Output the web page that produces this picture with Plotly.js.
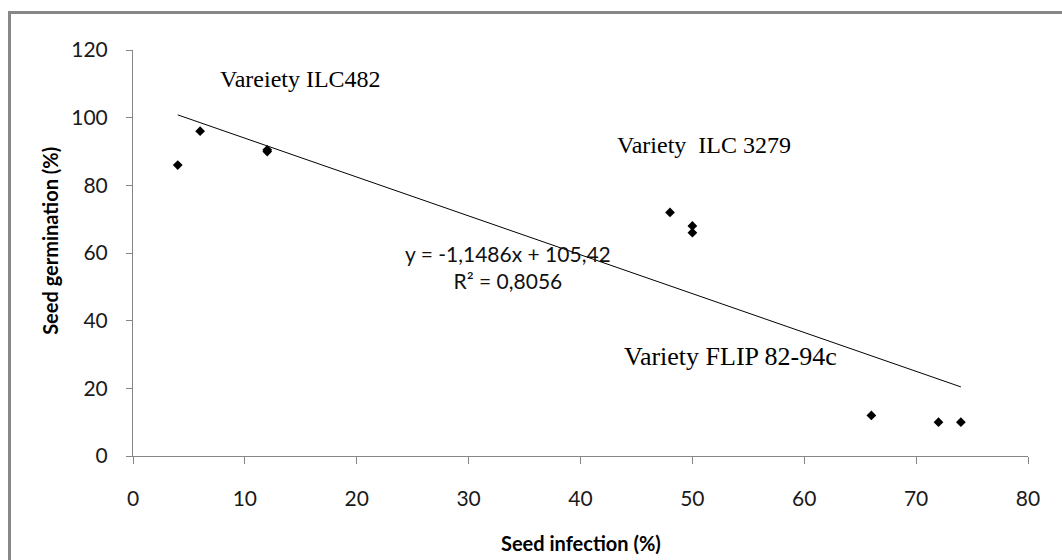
<!DOCTYPE html>
<html>
<head>
<meta charset="utf-8">
<script src="https://cdn.plot.ly/plotly-3.0.1.min.js"></script>
<style>
html,body{margin:0;padding:0;overflow:hidden;background:#fff;}
#wrap{position:relative;width:1062px;height:560px;overflow:hidden;}
#chart{position:absolute;left:0;top:0;width:1062px;height:560px;}
#frame{position:absolute;left:8px;top:11px;width:1100px;height:600px;border:3px solid #878787;box-sizing:border-box;pointer-events:none;}
</style>
</head>
<body>
<div id="wrap"><div id="chart"></div><div id="frame"></div></div>
<script>
// Data
const seedInfection = [4, 6, 12, 12, 48, 50, 50, 66, 72, 74];
const seedGermination = [86, 96, 90, 90.5, 72, 68, 66, 12, 10, 10];
const trendSlope = -1.1486;
const trendIntercept = 105.42;
const rSquared = 0.8056;
const xTicks = [0, 10, 20, 30, 40, 50, 60, 70, 80];
const yTicks = [0, 20, 40, 60, 80, 100, 120];
const varietyLabels = ["Vareiety ILC482", "Variety  ILC 3279", "Variety FLIP 82-94c"];
const varietyLabelX = [7.6, 43.1, 43.7];
const varietyLabelY = [111.5, 91.8, 29.3];
const varietyLabelSize = [24, 24, 26];
const xTitle = "Seed infection (%)";
const yTitle = "Seed germination (%)";

const xMin = Math.min(...seedInfection), xMax = Math.max(...seedInfection);
const trendX = [xMin, xMax];
const trendY = trendX.map(x => trendSlope * x + trendIntercept);

const fmt = (v, d) => v.toFixed(d).replace('.', ',');
const eqText = 'y = ' + fmt(trendSlope, 4) + 'x + ' + fmt(trendIntercept, 2) + '<br>R² = ' + fmt(rSquared, 4);

const traces = [
  {x: trendX, y: trendY, mode: 'lines', type: 'scatter', line: {color: '#000', width: 1}, hoverinfo: 'skip', showlegend: false},
  {x: seedInfection, y: seedGermination, mode: 'markers', type: 'scatter',
   marker: {symbol: 'diamond', size: 7.5, color: '#000'}, showlegend: false}
];

const serif = 'Liberation Serif, Times New Roman, serif';
const sans = 'Lato, Open Sans, sans-serif';
const annotations = varietyLabels.map((t, i) => ({
  x: varietyLabelX[i], y: varietyLabelY[i], xref: 'x', yref: 'y', text: t, showarrow: false,
  xanchor: 'left', yanchor: 'middle',
  font: {family: serif, size: varietyLabelSize[i], color: '#000'}
}));
annotations.push({
  x: 33.5, y: 56, xref: 'x', yref: 'y', text: eqText, showarrow: false, align: 'center',
  font: {family: sans, size: 21, color: '#111'}
});
annotations.push({
  x: 0.5, y: -0.214, xref: 'paper', yref: 'paper', text: '<b>' + xTitle + '</b>', showarrow: false,
  xanchor: 'center', yanchor: 'middle', font: {family: sans, size: 20, color: '#000'}
});
annotations.push({
  x: -0.0927, y: 0.53, xref: 'paper', yref: 'paper', text: '<b>' + yTitle + '</b>', showarrow: false,
  xanchor: 'center', yanchor: 'middle', textangle: -90, font: {family: sans, size: 20, color: '#000'}
});

const axisFont = {family: sans, size: 21, color: '#1a1a1a'};
const layout = {
  width: 1062, height: 560,
  margin: {l: 133, r: 34, t: 50, b: 104},
  paper_bgcolor: '#fff', plot_bgcolor: '#fff',
  xaxis: {
    range: [0, 80], tickvals: xTicks, ticktext: xTicks.map(String),
    showgrid: false, zeroline: false, showline: true, linecolor: '#868686', linewidth: 1,
    ticks: 'outside', ticklen: 7, tickcolor: '#868686', tickfont: axisFont, ticklabelstandoff: 17
  },
  yaxis: {
    range: [0, 120], tickvals: yTicks, ticktext: yTicks.map(String),
    showgrid: false, zeroline: false, showline: true, linecolor: '#868686', linewidth: 1,
    ticks: 'outside', ticklen: 6, tickcolor: '#868686', tickfont: axisFont, ticklabelstandoff: 14
  },
  annotations: annotations
};
Plotly.newPlot('chart', traces, layout, {displayModeBar: false, staticPlot: true});
</script>
</body>
</html>
